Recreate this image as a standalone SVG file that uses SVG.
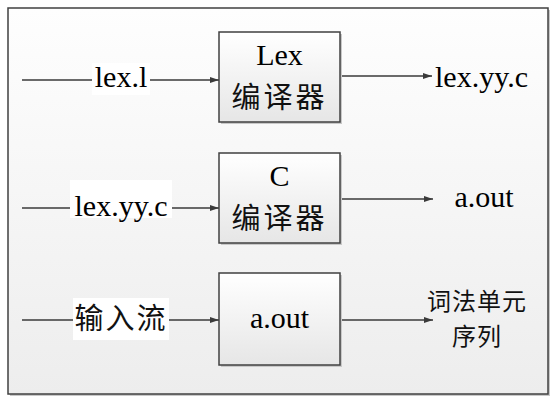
<svg xmlns="http://www.w3.org/2000/svg" width="557" height="406" viewBox="0 0 557 406">
<defs>
<linearGradient id="bg" x1="0" y1="0" x2="0" y2="1"><stop offset="0" stop-color="#fefefe"/><stop offset="1" stop-color="#ededed"/></linearGradient>
<linearGradient id="nb" x1="0" y1="0" x2="0" y2="1"><stop offset="0" stop-color="#ffffff"/><stop offset="1" stop-color="#e6e6e6"/></linearGradient>
<marker id="ah" markerWidth="9" markerHeight="6" refX="9" refY="3" orient="auto" markerUnits="userSpaceOnUse"><path d="M0,0 L9,3 L0,6 Z" fill="#3a3a3a"/></marker>
</defs>
<style>
.frame{fill:url(#bg);stroke:#404040;stroke-width:1.5}
.box{fill:url(#nb);stroke:#404040;stroke-width:1.5}
.sh{fill:#c8c8c8}
.cjk{font-family:'Noto Sans CJK SC',sans-serif;font-size:29px;fill:#111}
.cjks{font-family:'Noto Sans CJK SC',sans-serif;font-size:24px;fill:#111}
.ln{stroke:#3a3a3a;stroke-width:1.3;fill:none}
.lb{fill:#ffffff}
</style>
<rect x="10" y="10" width="540" height="386" class="sh"/>
<rect x="8" y="8" width="540" height="386" class="frame"/>
<g id="connectors">
<line x1="22" y1="80" x2="219" y2="80" class="ln" marker-end="url(#ah)"/>
<line x1="340" y1="76" x2="432" y2="76" class="ln" marker-end="url(#ah)"/>
<line x1="22" y1="208" x2="219" y2="208" class="ln" marker-end="url(#ah)"/>
<line x1="340" y1="199" x2="433" y2="199" class="ln" marker-end="url(#ah)"/>
<line x1="22" y1="320" x2="219" y2="320" class="ln" marker-end="url(#ah)"/>
<line x1="340" y1="320" x2="433" y2="320" class="ln" marker-end="url(#ah)"/>
</g>
<g font-family="Liberation Serif, DejaVu Serif, serif" font-size="30" fill="#000">
<g id="label-lexl">
<rect x="92" y="63" width="58" height="32" class="lb"/>
<text x="121" y="87" text-anchor="middle">lex.l</text>
</g>
<g id="node-lex">
<rect x="221" y="34" width="121" height="90" class="sh"/>
<rect x="219" y="32" width="121" height="90" class="box"/>
<text x="279.5" y="65" text-anchor="middle">Lex</text>
<text x="279.5" y="108" text-anchor="middle" class="cjk" letter-spacing="3">编译器</text>
</g>
<g id="out-lexyyc">
<text x="435" y="87">lex.yy.c</text>
</g>
<g id="label-lexyyc">
<rect x="70" y="180" width="102" height="38" class="lb"/>
<text x="121" y="216" text-anchor="middle">lex.yy.c</text>
</g>
<g id="node-c">
<rect x="221" y="155" width="121" height="90" class="sh"/>
<rect x="219" y="153" width="121" height="90" class="box"/>
<text x="279.5" y="186" text-anchor="middle">C</text>
<text x="279.5" y="229" text-anchor="middle" class="cjk" letter-spacing="3">编译器</text>
</g>
<g id="out-aout">
<text x="484" y="207" text-anchor="middle">a.out</text>
</g>
<g id="label-input">
<rect x="73" y="298" width="96" height="42" class="lb"/>
<text x="121" y="329" text-anchor="middle" class="cjk" letter-spacing="2">输入流</text>
</g>
<g id="node-aout">
<rect x="221" y="275" width="121" height="92" class="sh"/>
<rect x="219" y="273" width="121" height="92" class="box"/>
<text x="279.5" y="328" text-anchor="middle">a.out</text>
</g>
<g id="out-tokens">
<text x="477" y="310" text-anchor="middle" class="cjks" letter-spacing="1">词法单元</text>
<text x="477" y="345" text-anchor="middle" class="cjks" letter-spacing="1">序列</text>
</g>
</g>
</svg>
